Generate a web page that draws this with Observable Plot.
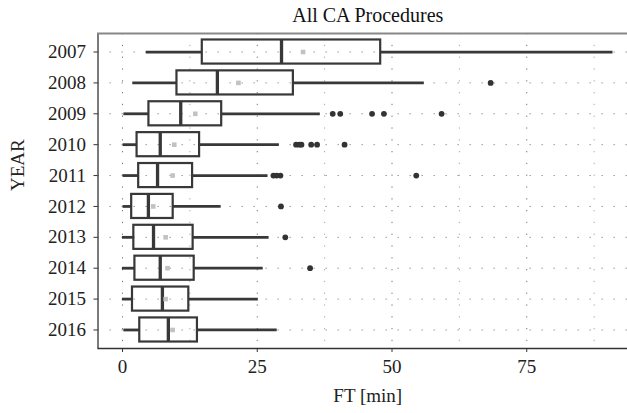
<!DOCTYPE html>
<html>
<head>
<meta charset="utf-8">
<script src="https://cdn.jsdelivr.net/npm/d3@7"></script>
<script src="https://cdn.jsdelivr.net/npm/@observablehq/plot@0.6"></script>
<style>
  html, body { margin: 0; padding: 0; background: #fff; overflow: hidden; }
  #chart { width: 627px; height: 413px; overflow: hidden; }
  #chart svg { max-width: none !important; width: 650px !important; height: 413px !important; }
</style>
</head>
<body>
<div id="chart"></div>
<script>
const title = "All CA Procedures";
const xLabel = "FT [min]";
const yLabel = "YEAR";
const years = ["2007","2008","2009","2010","2011","2012","2013","2014","2015","2016"];
const whiskerLow  = [4.4, 1.9, 0.25, 0.1, 0.1, 0.1, 0.0, 0.0, 0.0, 0.25];
const q1          = [14.8, 10.1, 4.9, 2.7, 3.0, 1.7, 2.1, 2.3, 1.85, 3.2];
const median      = [29.5, 17.6, 10.8, 7.0, 6.5, 4.8, 5.75, 7.0, 7.4, 8.5];
const q3          = [47.9, 31.7, 18.4, 14.3, 13.0, 9.4, 13.1, 13.3, 12.3, 13.9];
const whiskerHigh = [91.0, 56.0, 36.7, 29.1, 27.0, 18.3, 27.2, 26.1, 25.2, 28.7];
const means       = [33.5, 21.5, 13.5, 9.6, 9.3, 5.7, 8.0, 8.35, 8.0, 9.3];
const outlierYears  = ["2008","2009","2009","2009","2009","2009","2010","2010","2010","2010","2010","2010","2011","2011","2011","2011","2012","2013","2014"];
const outlierValues = [68.3, 39.0, 40.4, 46.3, 48.5, 59.2, 32.2, 32.8, 33.2, 35.0, 36.1, 41.2, 28.0, 28.6, 29.3, 54.5, 29.4, 30.2, 34.8];
const xTicks = [0, 25, 50, 75];
const majorGrid = [0, 25, 50, 75];
const minorGrid = [12.5, 37.5, 62.5, 87.5];
const xDomain = [-4.55, 95.55];

const stats = years.map((y, i) => ({
  year: y, lo: whiskerLow[i], q1: q1[i], med: median[i], q3: q3[i], hi: whiskerHigh[i], mean: means[i]
}));
const outliers = outlierYears.map((y, i) => ({year: y, value: outlierValues[i]}));

const dark = "#383838";
const serif = "Liberation Serif";

const chart = Plot.plot({
  width: 650,
  height: 413,
  marginLeft: 97.5,
  marginRight: 13,
  marginTop: 33,
  marginBottom: 65,
  style: {fontFamily: serif, fontSize: "19px", color: "#222", background: "#fff"},
  x: {domain: xDomain},
  y: {domain: years, round: false, paddingInner: 0.22, paddingOuter: 0.21},
  marks: [
    Plot.ruleX(minorGrid, {stroke: "#aaa", strokeWidth: 1, strokeDasharray: "1.3,10.5"}),
    Plot.ruleX(majorGrid, {stroke: "#777", strokeWidth: 1, strokeDasharray: "1.3,10.5"}),
    Plot.ruleY(years, {y: d => d, stroke: "#888", strokeWidth: 1, strokeDasharray: "1.3,10.7"}),
    Plot.ruleY(stats, {y: "year", x1: "lo", x2: "q1", stroke: dark, strokeWidth: 2.8}),
    Plot.ruleY(stats, {y: "year", x1: "q3", x2: "hi", stroke: dark, strokeWidth: 2.8}),
    Plot.barX(stats, {y: "year", x1: "q1", x2: "q3", fill: "none", stroke: dark, strokeWidth: 2.2}),
    Plot.tickX(stats, {y: "year", x: "med", stroke: dark, strokeWidth: 3.3}),
    Plot.dot(stats, {y: "year", x: "mean", symbol: "square", r: 2.6, fill: "#c2c2c2", stroke: "none"}),
    Plot.dot(outliers, {y: "year", x: "value", r: 2.9, fill: "#333", stroke: "none"}),
    Plot.ruleX([xDomain[0]], {stroke: "#333", strokeWidth: 1.3}),
    Plot.frame({anchor: "bottom", stroke: "#333", strokeWidth: 1.3}),
    Plot.frame({anchor: "top", stroke: "#888", strokeWidth: 2}),
    Plot.axisY({label: null, tickSize: 4, tickPadding: 8, fontSize: 19, fontFamily: serif, fill: "#222", stroke: "#333"}),
    Plot.axisX({ticks: xTicks, label: null, tickSize: 4, tickPadding: 7, fontSize: 19, fontFamily: serif, fill: "#222", stroke: "#333"}),
    Plot.text([xLabel], {frameAnchor: "bottom", lineAnchor: "bottom", dy: 53, fontSize: 19, fontFamily: serif, fill: "#222"}),
    Plot.text([yLabel], {frameAnchor: "left", dx: -80, rotate: -90, fontSize: 19, fontFamily: serif, fill: "#222"}),
    Plot.text([title], {frameAnchor: "top", lineAnchor: "bottom", dy: -12, fontSize: 20, fontFamily: serif, fill: "#111"})
  ]
});
document.getElementById("chart").appendChild(chart);
</script>
</body>
</html>
